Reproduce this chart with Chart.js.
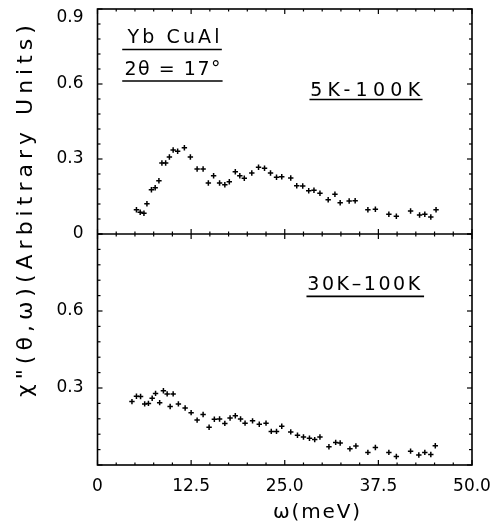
<!DOCTYPE html>
<html><head><meta charset="utf-8">
<script src="https://cdn.jsdelivr.net/npm/chart.js@4"></script>
<style>html,body{margin:0;padding:0;background:#fff}#wrap{width:490px;height:527px;position:relative}</style>
</head><body><div id="wrap"><canvas id="c" width="490" height="527"></canvas></div>
<script>
// ---- data ----
const omega5K = [5.2, 5.7, 6.2, 6.6, 7.2, 7.7, 8.2, 8.6, 9.1, 9.6, 10.1, 10.7, 11.6, 12.4, 13.3, 14.1, 14.8, 15.5, 16.3, 17.0, 17.6, 18.4, 19.0, 19.6, 20.6, 21.5, 22.3, 23.1, 23.9, 24.6, 25.8, 26.6, 27.4, 28.2, 28.9, 29.7, 30.8, 31.7, 32.4, 33.6, 34.4, 36.1, 37.1, 38.9, 39.9, 41.8, 43.0, 43.7, 44.5, 45.2];
const chi5K = [0.097, 0.087, 0.083, 0.121, 0.177, 0.185, 0.213, 0.284, 0.284, 0.308, 0.336, 0.331, 0.345, 0.308, 0.26, 0.26, 0.204, 0.233, 0.204, 0.197, 0.209, 0.249, 0.233, 0.223, 0.244, 0.267, 0.263, 0.244, 0.227, 0.229, 0.224, 0.193, 0.192, 0.173, 0.175, 0.163, 0.137, 0.159, 0.125, 0.132, 0.133, 0.097, 0.099, 0.079, 0.071, 0.092, 0.076, 0.079, 0.068, 0.097];
const omega30K = [4.6, 5.2, 5.75, 6.3, 6.8, 7.3, 7.75, 8.3, 8.8, 9.3, 9.7, 10.1, 10.8, 11.7, 12.5, 13.3, 14.1, 14.9, 15.6, 16.3, 17.0, 17.7, 18.4, 19.1, 19.7, 20.7, 21.6, 22.5, 23.2, 23.9, 24.6, 25.8, 26.7, 27.5, 28.3, 29.0, 29.7, 30.9, 31.8, 32.4, 33.7, 34.5, 36.1, 37.1, 38.9, 39.9, 41.8, 42.9, 43.7, 44.5, 45.1];
const chi30K = [0.247, 0.268, 0.267, 0.238, 0.240, 0.260, 0.279, 0.243, 0.289, 0.277, 0.228, 0.277, 0.238, 0.222, 0.204, 0.175, 0.197, 0.147, 0.178, 0.179, 0.162, 0.183, 0.192, 0.179, 0.163, 0.172, 0.159, 0.163, 0.131, 0.131, 0.151, 0.129, 0.116, 0.109, 0.104, 0.099, 0.109, 0.071, 0.088, 0.086, 0.063, 0.074, 0.049, 0.068, 0.049, 0.033, 0.054, 0.039, 0.049, 0.041, 0.075];
const xTickValues = [0, 12.5, 25, 37.5, 50];
const yTopTickValues = [0, 0.3, 0.6, 0.9];
const yBotTickValues = [0.3, 0.6];
const xMinorStep = 2.5;
const yMinorStep = 0.06;

const FONT = "'DejaVu Sans', sans-serif";

function spacedText(ctx, text, x, y, width) {
  ctx.letterSpacing = '0px';
  const w = ctx.measureText(text).width;
  const n = [...text].length;
  const ls = n > 1 ? (width - w) / (n - 1) : 0;
  ctx.letterSpacing = ls.toFixed(2) + 'px';
  ctx.fillText(text, x, y);
  ctx.letterSpacing = '0px';
}

const framePlugin = {
  id: 'frame',
  afterDatasetsDraw(chart) {
    const {ctx, chartArea: a, scales} = chart;
    const x = scales.x, yT = scales.yTop, yB = scales.yBot;
    const mid = yT.getPixelForValue(0);
    const line = (x1, y1, x2, y2) => { ctx.beginPath(); ctx.moveTo(x1, y1); ctx.lineTo(x2, y2); ctx.stroke(); };
    ctx.save();
    ctx.strokeStyle = '#000';
    ctx.lineWidth = 1.6;
    ctx.strokeRect(a.left, a.top, a.right - a.left, a.bottom - a.top);
    line(a.left, mid, a.right, mid);
    ctx.lineWidth = 1.2;
    for (const s of [yT, yB]) {
      for (let k = 0; k <= Math.round(0.9 / yMinorStep); k++) {
        const p = s.getPixelForValue(k * yMinorStep);
        const L = (k % 5 === 0) ? 5 : 3;
        line(a.left, p, a.left + L, p);
        line(a.right, p, a.right - L, p);
      }
    }
    for (let k = 0; k <= Math.round(50 / xMinorStep); k++) {
      const p = x.getPixelForValue(k * xMinorStep);
      const L = (k % 5 === 0) ? 5 : 2.5;
      line(p, a.top, p, a.top + L);
      line(p, a.bottom, p, a.bottom - L);
      line(p, mid, p, mid - L);
      line(p, mid, p, mid + L);
    }
    ctx.restore();
  },
  afterDraw(chart) {
    const {ctx, scales} = chart;
    const x = scales.x, yT = scales.yTop, yB = scales.yBot;
    ctx.save();
    ctx.fillStyle = '#000';
    ctx.strokeStyle = '#000';
    ctx.textAlign = 'left';
    ctx.textBaseline = 'alphabetic';
    const underline = (x1, x2, yy) => { ctx.lineWidth = 1.6; ctx.beginPath(); ctx.moveTo(x1, yy); ctx.lineTo(x2, yy); ctx.stroke(); };
    // annotations in data coordinates
    ctx.font = '19px ' + FONT;
    spacedText(ctx, 'Yb CuAl', x.getPixelForValue(4.0), yT.getPixelForValue(0.766), 92);
    underline(x.getPixelForValue(3.3), x.getPixelForValue(16.6), yT.getPixelForValue(0.738));
    spacedText(ctx, '2θ = 17°', x.getPixelForValue(3.6), yT.getPixelForValue(0.638), 96);
    underline(x.getPixelForValue(3.3), x.getPixelForValue(16.7), yT.getPixelForValue(0.612));
    spacedText(ctx, '5K-100K', x.getPixelForValue(28.4), yT.getPixelForValue(0.552), 110);
    underline(x.getPixelForValue(28.3), x.getPixelForValue(43.4), yT.getPixelForValue(0.538));
    spacedText(ctx, '30K–100K', x.getPixelForValue(28.0), yB.getPixelForValue(0.681), 113);
    underline(x.getPixelForValue(27.9), x.getPixelForValue(43.6), yB.getPixelForValue(0.657));
    // x axis title
    ctx.font = '20px ' + FONT;
    spacedText(ctx, 'ω(meV)', 273, 518, 87);
    // y axis title (rotated)
    ctx.translate(32, 397);
    ctx.rotate(-Math.PI / 2);
    ctx.font = '22px ' + FONT;
    spacedText(ctx, 'χ"(θ,ω)(Arbitrary Units)', 0, 0, 372);
    ctx.restore();
  }
};

const fmt = v => v === 0 ? '0' : Number(v).toFixed(1);
const noPad = s => { s.paddingTop = 0; s.paddingBottom = 0; s.paddingLeft = 0; s.paddingRight = 0; };

new Chart(document.getElementById('c'), {
  type: 'scatter',
  data: {
    datasets: [
      { label: '5K-100K', data: omega5K.map((w, i) => ({x: w, y: chi5K[i]})), yAxisID: 'yTop' },
      { label: '30K-100K', data: omega30K.map((w, i) => ({x: w, y: chi30K[i]})), yAxisID: 'yBot' }
    ]
  },
  options: {
    responsive: false,
    animation: false,
    devicePixelRatio: 1,
    layout: { padding: { top: 9, right: 18, left: 0, bottom: 0 } },
    elements: { point: { pointStyle: 'cross', radius: 2.7, borderWidth: 1.5, borderColor: '#000', backgroundColor: '#000' } },
    plugins: { legend: { display: false }, tooltip: { enabled: false } },
    scales: {
      x: {
        type: 'linear', position: 'bottom', min: 0, max: 50,
        afterFit: s => { s.height = 62; noPad(s); },
        afterBuildTicks: s => { s.ticks = xTickValues.map(v => ({value: v})); },
        grid: { display: false, drawTicks: false, tickLength: 0 },
        border: { display: false },
        ticks: { callback: fmt, color: '#000', font: { family: FONT, size: 17 }, padding: 11, maxRotation: 0 }
      },
      yBot: {
        type: 'linear', position: 'left', stack: 'panels', stackWeight: 231, min: 0, max: 0.9,
        afterFit: s => { s.width = 97.5; noPad(s); },
        afterBuildTicks: s => { s.ticks = yBotTickValues.map(v => ({value: v})); },
        grid: { display: false, drawTicks: false, tickLength: 0 },
        border: { display: false },
        ticks: { callback: fmt, color: '#000', font: { family: FONT, size: 17 }, padding: 14 }
      },
      yTop: {
        type: 'linear', position: 'left', stack: 'panels', stackWeight: 225, min: 0, max: 0.9,
        afterFit: s => { s.width = 97.5; noPad(s); },
        afterBuildTicks: s => { s.ticks = yTopTickValues.map(v => ({value: v})); },
        grid: { display: false, drawTicks: false, tickLength: 0 },
        border: { display: false },
        ticks: {
          callback: v => v === 0.9 ? ['', fmt(v)] : fmt(v),
          color: '#000', font: { family: FONT, size: 17, lineHeight: 1.0 }, padding: 14
        }
      }
    }
  },
  plugins: [framePlugin]
});
</script>
</body></html>
